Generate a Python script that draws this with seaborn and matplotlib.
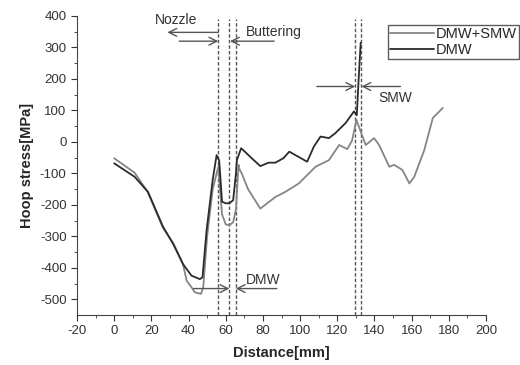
import numpy as np
import pandas as pd
import matplotlib
matplotlib.use("Agg")
import matplotlib.pyplot as plt
import seaborn as sns

# DMW+SMW (gray) curve
x_dmw_smw = [0, 11, 18, 26, 32, 37, 39, 41.6, 43.4, 46.7, 47.9, 50, 53, 56, 58, 60, 62, 64, 65.5,
             66.9, 67.6, 68.6, 72, 78.6, 86.7, 92, 99.3, 108.3, 115.5, 121, 125.4, 128, 130.3,
             132.6, 135.3, 139.8, 142.5, 148, 150.6, 155, 158.8, 161.4, 166.8, 171.4, 176.8]
y_dmw_smw = [-52, -98, -159, -270, -324, -388, -441, -462, -478, -483, -462, -300, -150, -79, -230,
             -262, -265, -255, -215, -73, -90, -100, -150, -212, -175, -159, -132, -79, -58, -10, -23,
             5, 70, 33, -10, 12, -10, -79, -73, -89, -132, -111, -26, 76, 108]

# DMW (dark) curve
x_dmw = [0, 11, 18.2, 26.3, 31.7, 37, 41.6, 46.1, 47.5, 49.7, 53, 55.1, 56.5, 58, 60, 62, 64, 65.5,
         66, 68.3, 74, 78.6, 83, 86.7, 91, 94.2, 103.8, 107.4, 111, 115.5, 119, 124.5, 129, 130.5,
         131.5, 132.6]
y_dmw = [-68, -111, -159, -270, -324, -388, -425, -436, -430, -281, -120, -42, -60, -190, -195,
         -195, -185, -100, -58, -20, -52, -77, -66, -66, -52, -31, -63, -15, 17, 12, 28, 60, 97, 85,
         200, 315]

series = ["DMW+SMW", "DMW"]
x_ticks = [-20, 0, 20, 40, 60, 80, 100, 120, 140, 160, 180, 200]
y_ticks = [-500, -400, -300, -200, -100, 0, 100, 200, 300, 400]
zone_lines = [56, 62, 65.4, 129.7, 133]

df = pd.concat([
    pd.DataFrame({"Distance": x_dmw_smw, "Stress": y_dmw_smw, "series": series[0]}),
    pd.DataFrame({"Distance": x_dmw, "Stress": y_dmw, "series": series[1]}),
], ignore_index=True)

sns.set_style("ticks")
plt.rcParams["font.family"] = ["Liberation Sans", "DejaVu Sans"]
plt.rcParams["axes.unicode_minus"] = False

fig = plt.figure(figsize=(5.2, 3.65), dpi=100)
ax = fig.add_axes([77 / 520, 1 - 315 / 365, 409 / 520, 299 / 365])

sns.lineplot(data=df, x="Distance", y="Stress", hue="series", sort=False, estimator=None,
             units="series", palette={"DMW+SMW": "#858585", "DMW": "#2b2b2b"},
             linewidth=1.3, ax=ax, legend=True)

for xv in zone_lines:
    ax.plot([xv, xv], [-550, 390], color="#555555", lw=1, ls=(0, (2.5, 1.5)), zorder=1)

arrow = dict(arrowstyle="->", color="#555555", lw=1, shrinkA=0, shrinkB=0,
             mutation_scale=14)
# Nozzle
ax.annotate("", xy=(28.6, 348), xytext=(56, 348), arrowprops=arrow)
ax.annotate("", xy=(56, 320), xytext=(35, 320), arrowprops=arrow)
ax.text(33.5, 387, "Nozzle", ha="center", va="center", fontsize=10, color="#333333")
# Buttering
ax.annotate("", xy=(62.3, 320), xytext=(86, 320), arrowprops=arrow)
ax.text(71, 348, "Buttering", ha="left", va="center", fontsize=10, color="#333333")
# DMW
ax.annotate("", xy=(62, -466), xytext=(42.6, -466), arrowprops=arrow)
ax.annotate("", xy=(65.4, -466), xytext=(87.5, -466), arrowprops=arrow)
ax.text(71, -440, "DMW", ha="left", va="center", fontsize=10, color="#333333")
# SMW
ax.annotate("", xy=(129.7, 176), xytext=(109, 176), arrowprops=arrow)
ax.annotate("", xy=(133, 176), xytext=(154, 176), arrowprops=arrow)
ax.text(151, 140, "SMW", ha="center", va="center", fontsize=10, color="#333333")

ax.set_xlim(-20, 200)
ax.set_ylim(-550, 400)
ax.set_xticks(x_ticks)
ax.set_yticks(y_ticks)
ax.set_xticks(np.arange(-10, 200, 20), minor=True)
ax.set_yticks(np.arange(-450, 400, 100), minor=True)
ax.tick_params(which="major", direction="out", length=4, labelsize=9.5, colors="#333333")
ax.tick_params(which="minor", direction="out", length=2.5, colors="#333333")
sns.despine(ax=ax)
for s in ["left", "bottom"]:
    ax.spines[s].set_color("#444444")

ax.set_xlabel("Distance[mm]", fontsize=10.5, fontweight="bold", labelpad=6)
ax.set_ylabel("Hoop stress[MPa]", fontsize=10.5, fontweight="bold", labelpad=4)

leg = ax.legend(loc="upper left", bbox_to_anchor=(388 / 520, 1 - 25 / 365),
                bbox_transform=fig.transFigure, frameon=True, fancybox=False,
                fontsize=10.5, handlelength=3.0, handletextpad=0.1, borderpad=0.15,
                labelspacing=0.1, borderaxespad=0)
leg.get_frame().set_edgecolor("#333333")
leg.get_frame().set_linewidth(1)
leg.set_title(None)

fig.savefig("out.png", dpi=100)
